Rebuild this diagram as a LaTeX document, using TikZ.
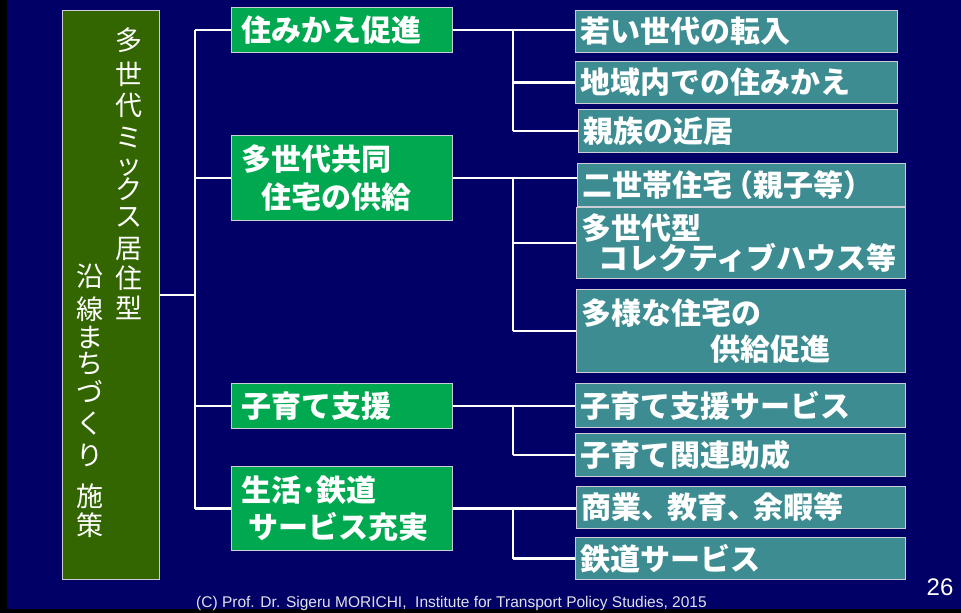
\documentclass[tikz,border=0pt]{standalone}
\usepackage{fontspec}
\setmainfont{Liberation Sans}
\newfontfamily\jp{Noto Sans CJK JP}
\definecolor{navybg}{RGB}{0,0,102}
\definecolor{olivebox}{RGB}{51,102,0}
\definecolor{mygreen}{RGB}{0,168,80}
\definecolor{myteal}{RGB}{60,140,145}
\definecolor{edgegray}{RGB}{205,205,215}
\definecolor{footgray}{RGB}{225,225,235}
\begin{document}
\begin{tikzpicture}[x=1pt,y=-1pt,
  lvl/.style={draw=edgegray, line width=1pt, anchor=north west, inner ysep=0pt,
    align=left, text=white, font=\jp\bfseries\fontsize{30}{38}\selectfont},
  gbox/.style={lvl, fill=mygreen, inner xsep=10pt, minimum width=221pt, text width=201pt},
  rbox/.style={lvl, fill=myteal, inner xsep=5pt},
  vch/.style={text=white, inner sep=0pt, text height=0.8em, text depth=0.1em,
    font=\jp\fontsize{27}{27}\selectfont},
  link/.style={draw=white, line width=2.5pt}]
\useasboundingbox (0,0) rectangle (961,613);
\fill[navybg] (0,0) rectangle (961,613);
\fill[black] (0,0) rectangle (7,613);
\fill[black] (0,609) rectangle (961,613);

% left box
\node[draw=edgegray, line width=1pt, fill=olivebox, anchor=north west,
  minimum width=97pt, minimum height=569pt, inner sep=0pt] (L) at (62,10) {};
\foreach \c/\yy [count=\i] in {多/47,世/81,代/112,ミ/144,ッ/171,ク/196,ス/223,居/255,住/285,型/315}
  \node[vch] (a\i) at (128.5,\yy) {\c};
\foreach \c/\yy [count=\i] in {沿/283,線/316,ま/344,ち/370,づ/399,く/430,り/462,施/503,策/532}
  \node[vch] (b\i) at (89.5,\yy) {\c};

% junction coordinates
\coordinate (tx) at (195,0);
\coordinate (jx) at (513,0);

% second level boxes
\node[gbox, minimum height=45pt] (g1) at (231,7) {住みかえ促進};
\node[gbox, minimum height=85pt] (g2) at (231,135) {多世代共同\\\hspace*{20pt}住宅の供給};
\node[gbox, minimum height=45pt] (g3) at (231,383) {子育て支援};
\node[gbox, minimum height=84pt, font=\jp\bfseries\fontsize{30}{37}\selectfont] (g4) at (231,466) {生活･鉄道\\\hspace*{7pt}サービス充実};

% third level boxes
\node[rbox, minimum width=322pt, text width=312pt, minimum height=42pt] (r1) at (575,10) {若い世代の転入};
\node[rbox, minimum width=322pt, text width=312pt, minimum height=42pt] (r2) at (575,61) {地域内での住みかえ};
\node[rbox, minimum width=319pt, text width=309pt, minimum height=43pt] (r3) at (578,109) {親族の近居};
\node[rbox, minimum width=328pt, text width=318pt, minimum height=43pt] (r4) at (577,163) {二世帯住宅\kern-9pt（親子等）};
\node[rbox, minimum width=329pt, text width=319pt, minimum height=71pt, font=\jp\bfseries\fontsize{30}{30}\selectfont] (r5) at (576,207) {多世代型\\\hspace*{17pt}コレクティブハウス等};
\node[rbox, minimum width=329pt, text width=319pt, minimum height=83pt, font=\jp\bfseries\fontsize{30}{36}\selectfont] (r6) at (576,289) {多様な住宅の\\\hspace*{129pt}供給促進};
\node[rbox, minimum width=330pt, text width=320pt, minimum height=44pt] (r7) at (575,383) {子育て支援サービス};
\node[rbox, minimum width=330pt, text width=320pt, minimum height=43pt] (r8) at (575,433) {子育て関連助成};
\node[rbox, minimum width=329pt, text width=319pt, minimum height=42pt] (r9) at (576,486) {商業、\kern-4pt 教育、\kern-4pt 余暇等};
\node[rbox, minimum width=330pt, text width=320pt, minimum height=42pt] (r10) at (575,537) {鉄道サービス};

% connectors
\draw[link] (L.east) -- (L.east -| tx);
\draw[link] (g1.west -| tx) -- (g4.west -| tx);
\foreach \g in {g1,g2,g3,g4} \draw[link] (\g.west -| tx) -- (\g.west);

\draw[link] (g1.east) -- (g1.east -| r1.west);
\draw[link] (g1.east -| jx) -- (r3.west -| jx);
\draw[link] (r2.west -| jx) -- (r2.west);
\draw[link] (r3.west -| jx) -- (r3.west);

\draw[link] (g2.east) -- (g2.east -| r4.west);
\draw[link] (g2.east -| jx) -- (r6.west -| jx);
\draw[link] (r5.west -| jx) -- (r5.west);
\draw[link] (r6.west -| jx) -- (r6.west);

\draw[link] (g3.east) -- (g3.east -| r7.west);
\draw[link] (g3.east -| jx) -- (r8.west -| jx);
\draw[link] (r8.west -| jx) -- (r8.west);

\draw[link] (g4.east) -- (g4.east -| r9.west);
\draw[link] (g4.east -| jx) -- (r10.west -| jx);
\draw[link] (r10.west -| jx) -- (r10.west);

% footer
\node[anchor=west, inner sep=0pt, text=footgray, font=\fontsize{15.5}{15.5}\selectfont] (foot) at (196,603)
  {(C) Prof. Dr. Sigeru MORICHI,\ \ Institute for Transport Policy Studies, 2015};
\node[inner sep=0pt, text=white, font=\fontsize{24}{24}\selectfont] (pg) at (940,587) {26};
\end{tikzpicture}
\end{document}
